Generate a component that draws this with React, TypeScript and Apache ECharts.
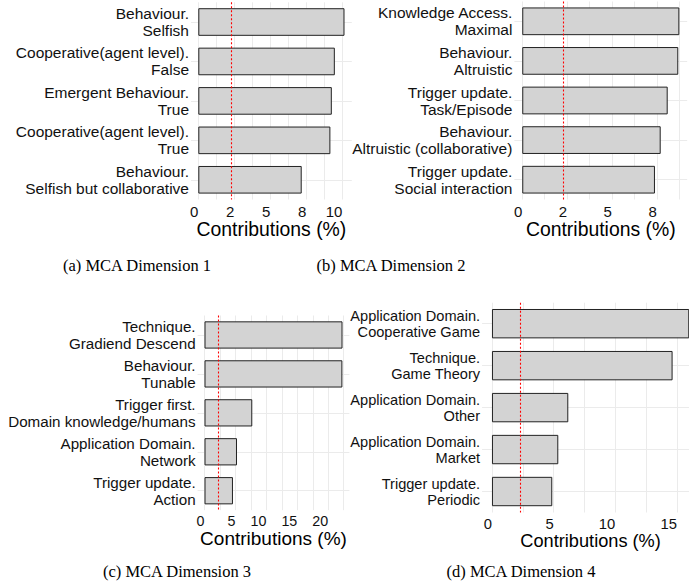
import React, { useEffect, useRef } from 'react';
import * as echarts from 'echarts';

// ---- data ----
const catsA = ['Behaviour.\nSelfish', 'Cooperative(agent level).\nFalse', 'Emergent Behaviour.\nTrue', 'Cooperative(agent level).\nTrue', 'Behaviour.\nSelfish but collaborative'];
const valsA = [10.15, 9.48, 9.27, 9.17, 7.18];
const ticksA = [0, 2.5, 5, 7.5, 10];
const labelsA = ['0', '2', '5', '8', '10'];
const minorA = [1.25, 3.75, 6.25, 8.75];

const catsB = ['Knowledge Access.\nMaximal', 'Behaviour.\nAltruistic', 'Trigger update.\nTask/Episode', 'Behaviour.\nAltruistic (collaborative)', 'Trigger update.\nSocial interaction'];
const valsB = [8.76, 8.7, 8.11, 7.72, 7.4];
const ticksB = [0, 2.5, 5, 7.5];
const labelsB = ['0', '2', '5', '8'];
const minorB = [1.25, 3.75, 6.25, 8.75];

const catsC = ['Technique.\nGradiend Descend', 'Behaviour.\nTunable', 'Trigger first.\nDomain knowledge/humans', 'Application Domain.\nNetwork', 'Trigger update.\nAction'];
const valsC = [22.3, 22.28, 7.72, 5.25, 4.6];
const ticksC = [0, 5, 10, 15, 20];
const labelsC = ['0', '5', '10', '15', '20'];
const minorC = [2.5, 7.5, 12.5, 17.5, 22.5];

const catsD = ['Application Domain.\nCooperative Game', 'Technique.\nGame Theory', 'Application Domain.\nOther', 'Application Domain.\nMarket', 'Trigger update.\nPeriodic'];
const valsD = [16.0, 14.65, 6.19, 5.38, 4.89];
const ticksD = [0, 5, 10, 15];
const labelsD = ['0', '5', '10', '15'];
const minorD = [2.5, 7.5, 12.5];

const meanLine = 2.27;
const axisTitle = 'Contributions (%)';
const captions = ['(a) MCA Dimension 1', '(b) MCA Dimension 2', '(c) MCA Dimension 3', '(d) MCA Dimension 4'];

const SANS = '"Liberation Sans", Arial, Helvetica, sans-serif';
const SERIF = '"Liberation Serif", "Times New Roman", serif';

export default function App() {
  const ref = useRef<HTMLDivElement>(null);
  useEffect(() => {
    document.body.style.margin = '0';
    const chart = echarts.init(ref.current!, null, { renderer: 'svg' });

    const panels = [
      { cats: catsA, vals: valsA, major: ticksA, labels: labelsA, minor: minorA,
        grid: { left: 191, top: 2.3, width: 160.8, height: 197.2 }, cat: 15.5, lh: 17, tick: 15, title: 19.4, nameGap: 16.5, labMargin: 4,
        cap: { x: 137, y: 265 } },
      { cats: catsB, vals: valsB, major: ticksB, labels: labelsB, minor: minorB,
        grid: { left: 514.4, top: 1.5, width: 172.8, height: 198 }, cat: 15.5, lh: 17, tick: 15, title: 19.4, nameGap: 16.5, labMargin: 4,
        cap: { x: 391, y: 265 } },
      { cats: catsC, vals: valsC, major: ticksC, labels: labelsC, minor: minorC,
        grid: { left: 197.6, top: 315.5, width: 151.8, height: 194.7 }, cat: 15.2, lh: 16.8, tick: 14.3, title: 19, nameGap: 17.2, labMargin: 4,
        cap: { x: 177, y: 571 } },
      { cats: catsD, vals: valsD, major: ticksD, labels: labelsD, minor: minorD,
        grid: { left: 482.1, top: 302.7, width: 217, height: 209.8 }, cat: 14.6, lh: 16, tick: 14.8, title: 18.2, nameGap: 17, labMargin: 4,
        cap: { x: 521, y: 571 } },
    ];

    const grid: any[] = [];
    const xAxis: any[] = [];
    const yAxis: any[] = [];
    const series: any[] = [];

    panels.forEach((p, i) => {
      const M = Math.max(...p.vals);
      grid.push({ ...p.grid, containLabel: false, outerBoundsMode: 'none' });
      const gridVals = [...p.major, ...p.minor].sort((a, b) => a - b);
      xAxis.push({
        type: 'value',
        gridIndex: i,
        min: -0.05 * M,
        max: 1.05 * M,
        axisLine: { show: false },
        axisTick: { show: false, customValues: gridVals },
        splitLine: { show: true, lineStyle: { color: '#EBEBEB', width: 1 } },
        minorSplitLine: { show: false },
        axisLabel: {
          customValues: p.major,
          formatter: (v: number) => {
            const k = p.major.findIndex((t) => Math.abs(t - v) < 1e-9);
            return k >= 0 ? p.labels[k] : '';
          },
          align: 'right',
          margin: p.labMargin,
          fontSize: p.tick,
          fontFamily: SANS,
          color: '#111',
        },
        name: axisTitle,
        nameLocation: 'middle',
        nameGap: p.nameGap,
        nameTextStyle: { fontSize: p.title, fontFamily: SANS, color: '#000' },
      });
      yAxis.push({
        type: 'category',
        gridIndex: i,
        data: p.cats,
        inverse: true,
        axisLine: { show: false },
        axisTick: { show: false },
        splitLine: { show: false },
        axisLabel: {
          fontSize: p.cat,
          lineHeight: p.lh,
          fontFamily: SANS,
          color: '#111',
          margin: 2,
          align: 'right',
          interval: 0,
        },
      });
      // horizontal gridlines at category centres (beneath bars)
      series.push({
        type: 'line',
        xAxisIndex: i,
        yAxisIndex: i,
        data: [],
        z: 0,
        silent: true,
        markLine: {
          silent: true,
          z: 0,
          zlevel: 0,
          symbol: ['none', 'none'],
          label: { show: false },
          lineStyle: { color: '#EBEBEB', type: 'solid', width: 1 },
          data: p.cats.map((_, k) => ({ yAxis: k })),
        },
      });
      series.push({
        type: 'bar',
        xAxisIndex: i,
        yAxisIndex: i,
        data: p.vals,
        barWidth: '70%',
        z: 3,
        itemStyle: { color: '#D3D3D3', borderColor: '#222', borderWidth: 1 },
      });
      // red mean line
      series.push({
        type: 'line',
        xAxisIndex: i,
        yAxisIndex: i,
        data: [],
        z: 6,
        silent: true,
        markLine: {
          silent: true,
          z: 6,
          symbol: ['none', 'none'],
          label: { show: false },
          lineStyle: { color: '#FF0000', type: [2, 2], width: 1.1 },
          data: [{ xAxis: meanLine }],
        },
      });
    });

    const graphic = panels.map((p, i) => ({
      type: 'text',
      x: p.cap.x,
      y: p.cap.y,
      style: {
        text: captions[i],
        fontSize: 16.5,
        fontFamily: SERIF,
        fill: '#000',
        align: 'center',
        verticalAlign: 'middle',
      },
    }));

    chart.setOption({
      animation: false,
      backgroundColor: '#fff',
      grid,
      xAxis,
      yAxis,
      series,
      graphic,
    });
    return () => chart.dispose();
  }, []);
  return <div ref={ref} style={{ width: 689, height: 587 }} />;
}
